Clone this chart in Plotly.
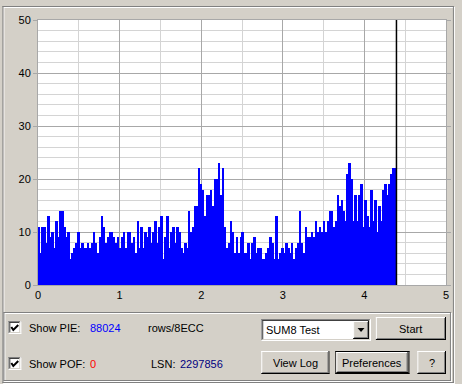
import plotly.graph_objects as go

# ---------------- data ----------------
pie_values = [
    11, 6, 11, 11, 8, 13, 9, 10, 7, 12, 9, 14, 14, 11, 9, 10, 5, 6, 7, 8, 10, 7, 8, 7, 7, 8, 7, 8, 10, 8,
    6, 9, 13, 11, 8, 9, 10, 10, 9, 8, 9, 7, 9, 10, 7, 10, 10, 8, 9, 6, 12, 7, 11, 7, 10, 9, 11, 8, 10, 12,
    8, 11, 13, 5, 9, 13, 7, 10, 11, 8, 11, 10, 7, 6, 8, 7, 14, 10, 11, 15, 15, 22, 19, 18, 13, 17, 17, 18, 15, 20,
    20, 23, 17, 22, 11, 7, 8, 12, 10, 6, 9, 6, 9, 10, 6, 6, 8, 5, 8, 9, 6, 7, 7, 5, 5, 6, 7, 9, 8, 5,
    13, 5, 6, 7, 6, 8, 7, 6, 8, 5, 7, 8, 14, 8, 6, 11, 9, 9, 10, 9, 12, 10, 11, 10, 12, 10, 12, 14, 14, 11,
    12, 17, 15, 16, 14, 12, 21, 23, 20, 12, 17, 12, 17, 19, 11, 16, 13, 11, 18, 12, 16, 10, 15, 12, 18, 19, 17, 19, 21, 22, 22,
]
STEP = 0.02427            # disc position (GB) covered by each bar
x_ticks = [0, 1, 2, 3, 4, 5]
y_ticks = [0, 10, 20, 30, 40, 50]
pie_total = "88024"
pof_total = "0"
lsn_value = "2297856"
unit_label = "rows/8ECC"
test_name = "SUM8 Test"

# ---------------- geometry helpers (pixel -> paper) ----------------
W, H = 462, 384
L, R, T, B = 38, 11, 20, 99
PW, PH = W - L - R, H - T - B
BG = "#D4D0C8"
FONT = "Liberation Sans, Arial, sans-serif"


def px(x):
    return (x - L) / PW


def py(y):
    return (H - B - y) / PH


shapes = []
annotations = []


def rect(x0, y0, x1, y1, fill):
    shapes.append(dict(type="rect", xref="paper", yref="paper",
                       x0=px(x0), x1=px(x1), y0=py(y1), y1=py(y0),
                       fillcolor=fill, line=dict(width=0), layer="above"))


def hline(x0, x1, y, c):
    rect(x0, y, x1, y + 1, c)


def vline(x, y0, y1, c):
    rect(x, y0, x + 1, y1, c)


def outline(x0, y0, x1, y1, c):
    hline(x0, x1, y0, c)
    hline(x0, x1, y1 - 1, c)
    vline(x0, y0, y1, c)
    vline(x1 - 1, y0, y1, c)


def etched(x0, y0, x1, y1):
    outline(x0 + 1, y0 + 1, x1 + 1, y1 + 1, "#FFFFFF")
    outline(x0, y0, x1, y1, "#808080")


def raised(x0, y0, x1, y1, default=False):
    if default:
        outline(x0, y0, x1, y1, "#000000")
        x0, y0, x1, y1 = x0 + 1, y0 + 1, x1 - 1, y1 - 1
    rect(x0, y0, x1, y1, BG)
    hline(x0, x1, y0, "#FFFFFF")
    vline(x0, y0, y1, "#FFFFFF")
    hline(x0, x1, y1 - 1, "#000000")
    vline(x1 - 1, y0, y1, "#000000")
    hline(x0 + 1, x1 - 1, y1 - 2, "#808080")
    vline(x1 - 2, y0 + 1, y1 - 1, "#808080")


def sunken(x0, y0, x1, y1):
    rect(x0, y0, x1, y1, "#FFFFFF")
    hline(x0, x1, y0, "#808080")
    vline(x0, y0, y1, "#808080")
    hline(x0 + 1, x1 - 1, y0 + 1, "#404040")
    vline(x0 + 1, y0 + 1, y1 - 1, "#404040")
    hline(x0, x1, y1 - 1, "#FFFFFF")
    vline(x1 - 1, y0, y1, "#FFFFFF")
    hline(x0 + 1, x1 - 1, y1 - 2, BG)
    vline(x1 - 2, y0 + 1, y1 - 1, BG)


def path(points, color, width=0, fill=None):
    d = "M " + " L ".join(f"{px(x)},{py(y)}" for x, y in points)
    if fill:
        d += " Z"
    shapes.append(dict(type="path", xref="paper", yref="paper", path=d,
                       line=dict(color=color, width=width),
                       fillcolor=fill if fill else "rgba(0,0,0,0)", layer="above"))


def text(x, y, s, color="#000000", anchor="left"):
    annotations.append(dict(xref="paper", yref="paper", x=px(x), y=py(y), text=s,
                            showarrow=False, xanchor=anchor, yanchor="middle",
                            font=dict(family=FONT, size=11, color=color)))


# ---------------- window chrome ----------------
etched(2, 6, 459, 383)
etched(3, 312, 456, 381)

# check boxes
for cy in (321, 357):
    sunken(8, cy, 21, cy + 13)
    path([(11, cy + 6), (13, cy + 9), (18, cy + 4)], "#000000", width=2)

text(27, 327.5, "Show PIE:")
text(89, 327.5, pie_total, "#0000FF")
text(147, 327.5, unit_label)
text(27, 363.5, "Show POF:")
text(89, 363.5, pof_total, "#FF0000")
text(150, 363.5, "LSN:")
text(180, 363.5, lsn_value, "#000080")

# drop-down
sunken(264, 319, 375, 341)
text(267, 330, test_name)
raised(357, 321, 373, 339)
path([(361.5, 328), (368.5, 328), (365, 332)], "#000000", width=0, fill="#000000")

# buttons
raised(380, 317, 451, 340)
text(415.5, 328.5, "Start", anchor="center")
raised(264, 351, 333, 374)
text(298.5, 362.5, "View Log", anchor="center")
raised(339, 351, 414, 374, default=True)
text(376.5, 362.5, "Preferences", anchor="center")
raised(422, 351, 451, 374)
text(436.5, 362.5, "?", anchor="center")

# end-of-scan marker
end_x = len(pie_values) * STEP
shapes.append(dict(type="line", xref="x", yref="y", x0=end_x, x1=end_x, y0=0, y1=50,
                   line=dict(color="#000000", width=1.5), layer="above"))

# ---------------- figure ----------------
fig = go.Figure(go.Bar(
    y=pie_values, x0=STEP / 2, dx=STEP, width=STEP,
    marker=dict(color="#0000FF", line=dict(width=0)),
    hoverinfo="skip",
))

fig.update_layout(
    width=W, height=H,
    margin=dict(l=L, r=R, t=T, b=B),
    paper_bgcolor=BG, plot_bgcolor="#FFFFFF",
    showlegend=False, bargap=0,
    font=dict(family=FONT, size=11, color="#000000"),
    shapes=shapes, annotations=annotations,
    xaxis=dict(range=[0, 5], tickvals=x_ticks, ticks="", showgrid=True,
               gridcolor="#A8A8A8", gridwidth=1, zeroline=False,
               showline=True, linecolor="#A8A8A8", mirror=True,
               minor=dict(dtick=0.5, showgrid=True, gridcolor="#D4D4D4"),
               tickfont=dict(size=11, color="#000000"), fixedrange=True),
    yaxis=dict(range=[0, 50], tickvals=y_ticks, ticks="outside", ticklen=4,
               tickcolor="#A8A8A8", showgrid=True, gridcolor="#A8A8A8",
               zeroline=False, showline=True, linecolor="#A8A8A8", mirror="ticks",
               minor=dict(dtick=2, showgrid=True, gridcolor="#D4D4D4"),
               tickfont=dict(size=11, color="#000000"), fixedrange=True),
)

fig.write_html("out.html", config=dict(displayModeBar=False))
